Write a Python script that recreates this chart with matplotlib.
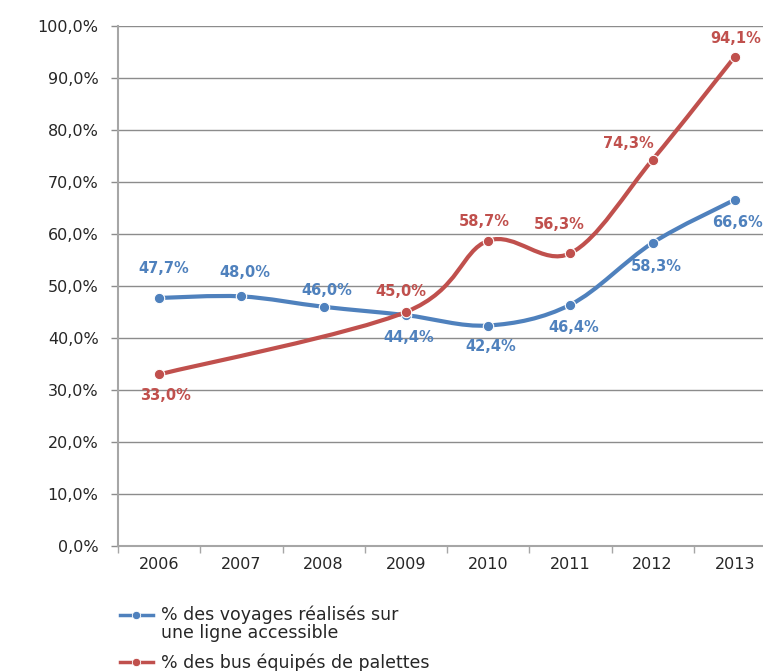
import matplotlib.pyplot as plt
import numpy as np
from matplotlib.path import Path
from matplotlib.patches import PathPatch
from matplotlib.lines import Line2D
from matplotlib.legend_handler import HandlerLine2D
from matplotlib.ticker import FixedLocator, FuncFormatter

years = ["2006", "2007", "2008", "2009", "2010", "2011", "2012", "2013"]
voyages = [47.7, 48.0, 46.0, 44.4, 42.4, 46.4, 58.3, 66.6]
bus = [33.0, None, None, 45.0, 58.7, 56.3, 74.3, 94.1]

voyages_label = "% des voyages réalisés sur\nune ligne accessible"
bus_label = "% des bus équipés de palettes"

BLUE = "#4F81BD"
RED = "#C0504D"

# where each value label sits, in pixels from its marker
voyages_offsets = [(5, 29), (3, 24), (3, 16), (3, -22), (3, -21), (3, -23), (4, -24), (3, -23)]
bus_offsets = [(6, -21), None, None, (-5, 20), (-4, 19), (-11, 29), (-24, 16), (1, 18)]

plt.rcParams["font.family"] = ["DejaVu Sans"]


def smooth_path(xs, ys):
    # bezier segments through every point, office-style smoothed line
    pts = np.column_stack([xs, ys]).astype(float)
    n = len(pts)
    verts = [pts[0]]
    codes = [Path.MOVETO]
    for i in range(n - 1):
        p0 = pts[max(i - 1, 0)]
        p1 = pts[i]
        p2 = pts[i + 1]
        p3 = pts[min(i + 2, n - 1)]
        verts += [p1 + (p2 - p0) / 6, p2 - (p3 - p1) / 6, p2]
        codes += [Path.CURVE4] * 3
    return Path(verts, codes)


def fmt_pct(v):
    return f"{v:.1f}%".replace(".", ",")


class TopLineHandler(HandlerLine2D):
    # keep the handle level with the first line of a two-line label
    def create_artists(self, legend, orig_handle, xdescent, ydescent, width, height,
                       fontsize, trans):
        artists = super().create_artists(legend, orig_handle, xdescent, ydescent,
                                         width, height, fontsize, trans)
        for a in artists:
            a.set_ydata(np.asarray(a.get_ydata()) + 0.52 * fontsize)
        return artists


fig = plt.figure(figsize=(7.63, 6.71), dpi=100)
ax = fig.add_axes([118 / 763, 125 / 671, 658 / 763, 520 / 671])

for values, color, offsets, z in [
    (voyages, BLUE, voyages_offsets, 3),
    (bus, RED, bus_offsets, 4),
]:
    xs = [i for i, v in enumerate(values) if v is not None]
    ys = [v for v in values if v is not None]
    patch = PathPatch(smooth_path(xs, ys), facecolor="none", edgecolor=color,
                      lw=3.0, capstyle="round", joinstyle="round", zorder=z)
    ax.add_patch(patch)
    ax.plot(xs, ys, "o", color=color, ms=7.5, mec="white", mew=0.8, zorder=z + 0.1)
    for x, y in zip(xs, ys):
        ax.annotate(fmt_pct(y), (x, y), xytext=offsets[x], textcoords="offset pixels",
                    ha="center", va="center", color=color, fontsize=10.5,
                    fontweight="bold", zorder=6)

ax.set_xlim(-0.5, 7.5)
ax.set_ylim(0, 100)

ax.set_xticks(range(len(years)))
ax.set_xticklabels(years)
ax.xaxis.set_minor_locator(FixedLocator(np.arange(-0.5, len(years), 1.0)))
ax.tick_params(axis="x", which="major", length=0, pad=8, labelsize=11.5, labelcolor="#262626")
ax.tick_params(axis="x", which="minor", length=5, width=1, color="#A6A6A6", direction="out")

ax.set_yticks(np.arange(0, 101, 10))
ax.yaxis.set_major_formatter(FuncFormatter(lambda v, p: fmt_pct(v)))
ax.tick_params(axis="y", length=5, width=1, color="#8C8C8C", pad=9, labelsize=11.5,
               labelcolor="#262626")

ax.grid(axis="y", color="#8C8C8C", lw=1)
ax.set_axisbelow(True)
for side in ["top", "right"]:
    ax.spines[side].set_visible(False)
for side in ["left", "bottom"]:
    ax.spines[side].set_color("#A6A6A6")
    ax.spines[side].set_linewidth(1.5)

blue_handle = Line2D([], [], color=BLUE, lw=2.5, marker="o", ms=6, mec="white", mew=0.6)
red_handle = Line2D([], [], color=RED, lw=2.5, marker="o", ms=6, mec="white", mew=0.6)
leg = fig.legend([blue_handle, red_handle], [voyages_label, bus_label], loc="upper left",
                 bbox_to_anchor=(120 / 763, 1 - 605 / 671), frameon=False,
                 fontsize=12.5, handlelength=1.9, handletextpad=0.45,
                 labelspacing=0.72, borderpad=0, borderaxespad=0, labelcolor="#262626",
                 handler_map={blue_handle: TopLineHandler()})
leg.get_texts()[0].set_linespacing(1.0)

fig.savefig("out.png", dpi=100)
